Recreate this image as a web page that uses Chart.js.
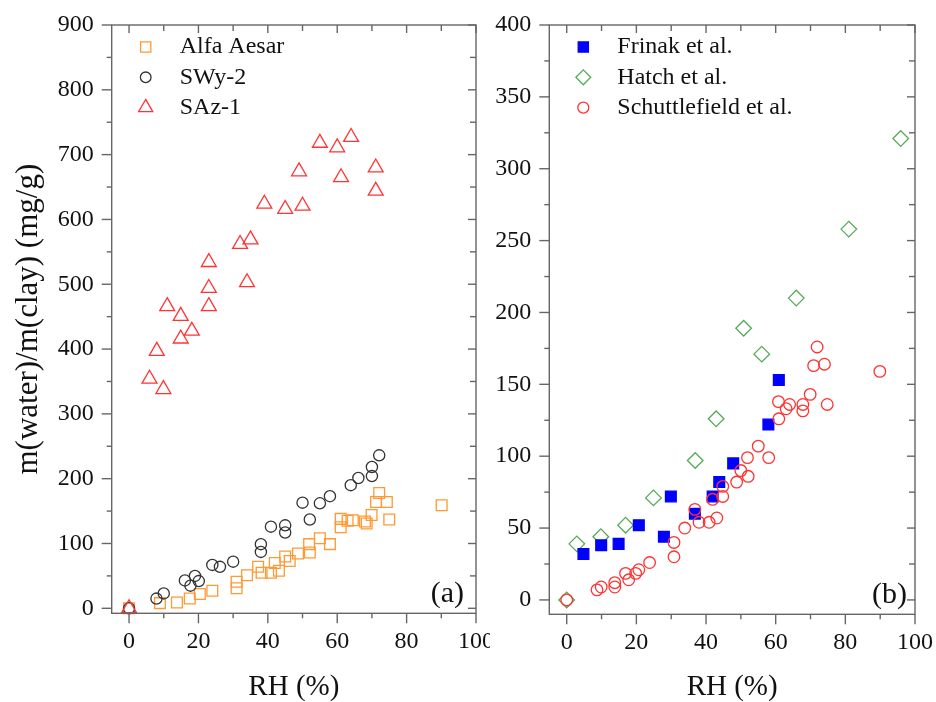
<!DOCTYPE html>
<html>
<head>
<meta charset="utf-8">
<title>Water uptake vs RH</title>
<script src="https://cdn.jsdelivr.net/npm/chart.js@4.4.1/dist/chart.umd.min.js"></script>
<style>
  html, body { margin: 0; padding: 0; background: #fff; }
  #wrap { position: relative; width: 936px; height: 702px; overflow: hidden; }
  .panel { position: absolute; top: 0; height: 702px; }
</style>
</head>
<body>
<div id="wrap">
  <div class="panel" style="left:0;width:490px"><canvas id="chartA"></canvas></div>
  <div class="panel" style="left:490px;width:446px"><canvas id="chartB"></canvas></div>
</div>
<script>
const SERIF = '"Liberation Serif", "Times New Roman", serif';

// panel (a): clay samples
const alfaRH    = [0, 8.9, 13.8, 17.5, 20.4, 24, 31, 31, 34, 37.2, 38.2, 40.9, 42, 43.2, 45, 46.3, 48.7, 51.9, 52.1, 55, 57.9, 61, 61, 63, 64.5, 68, 68.5, 69.9, 71.2, 72.1, 74.3, 75, 90.1];
const alfaWater = [0, 8, 9, 15, 22, 27, 31, 41, 51, 64, 55, 55, 70, 58, 80, 73, 84.5, 99, 86, 108, 99, 138, 125, 135, 136, 134, 131, 144, 164, 178, 164, 137, 159];

const swyRH    = [0, 7.9, 10, 16.1, 17.7, 19, 20.1, 24, 26.2, 30, 38, 38, 40.9, 45, 45, 50, 52.1, 55, 57.9, 63.9, 66.1, 70, 70, 72.1];
const swyWater = [0, 15, 23, 43, 35, 50, 42, 67, 64, 72, 99, 87, 126, 128, 117, 163, 137, 162, 173, 190, 201, 204, 218, 236];

const sazRH    = [0, 5.9, 8, 9.9, 11, 14.9, 14.9, 18.1, 23, 23, 23, 32, 34, 35, 39, 45, 49, 50, 55, 60, 61.1, 64, 71.1, 71.1];
const sazWater = [0, 354, 397, 338, 466, 451, 416, 428, 534, 494, 466, 562, 503, 569, 624, 616, 674, 621, 718, 711, 665, 727, 680, 644];

// panel (b): literature data
const frinakRH    = [4.8, 9.9, 14.9, 20.7, 27.9, 29.9, 36.8, 41.9, 43.8, 47.8, 57.9, 60.9];
const frinakWater = [32, 38, 39, 52, 44, 72, 60, 72, 82, 95, 122, 153];

const hatchRH    = [0, 2.9, 9.8, 16.9, 24.9, 36.9, 42.9, 50.8, 56, 65.9, 81, 95.9];
const hatchWater = [0, 39, 44, 52, 71, 97, 126, 189, 171, 210, 258, 321];

const schuttRH    = [0, 8.7, 9.9, 13.8, 13.8, 16.9, 17.8, 19.8, 20.7, 23.8, 30.8, 30.8, 33.9, 36.8, 38, 40.9, 43.1, 41.9, 44.8, 44.8, 48.8, 50, 52.1, 51.9, 55, 58, 60.9, 60.8, 63, 64, 67.8, 67.8, 69.9, 74.8, 70.9, 74, 71.9, 89.9];
const schuttWater = [0, 7, 9, 12, 9, 18.5, 14, 18.5, 21, 26, 40, 30, 50, 63, 54, 54, 57, 70, 72, 79, 82, 90, 86, 99, 107, 99, 126, 138, 133, 136, 131.5, 136, 143, 136, 163, 164, 176, 159];

// axis ticks
const xMajor = [0, 20, 40, 60, 80, 100];
const xMinor = [10, 30, 50, 70, 90];
const yMajorA = [0, 100, 200, 300, 400, 500, 600, 700, 800, 900];
const yMinorA = [50, 150, 250, 350, 450, 550, 650, 750, 850];
const yMajorB = [0, 50, 100, 150, 200, 250, 300, 350, 400];
const yMinorB = [25, 75, 125, 175, 225, 275, 325, 375];

const zip = (xs, ys) => xs.map((x, i) => ({ x: x, y: ys[i] }));

function series(label, xs, ys, color, style, radius, filled, order) {
  return {
    label: label,
    data: zip(xs, ys),
    pointStyle: style,
    pointRadius: radius,
    pointHoverRadius: radius,
    borderColor: color,
    backgroundColor: filled ? color : 'rgba(0,0,0,0)',
    borderWidth: 1.3,
    order: order,
    clip: false
  };
}

// box around the plot with Origin-like ticks (outer on left/bottom, inner on top/right)
const originFrame = {
  id: 'originFrame',
  afterDraw(chart, args, opts) {
    const { ctx, chartArea: a } = chart;
    const x = chart.scales.x, y = chart.scales.y;
    const line = (x1, y1, x2, y2) => { ctx.beginPath(); ctx.moveTo(x1, y1); ctx.lineTo(x2, y2); ctx.stroke(); };
    ctx.save();
    ctx.strokeStyle = '#666';
    ctx.lineWidth = 1.4;
    ctx.strokeRect(a.left, a.top, a.right - a.left, a.bottom - a.top);
    opts.xMajor.forEach(v => { const p = x.getPixelForValue(v); line(p, a.bottom, p, a.bottom + 10); line(p, a.top, p, a.top + 8); });
    opts.xMinor.forEach(v => { const p = x.getPixelForValue(v); line(p, a.bottom, p, a.bottom + 5); line(p, a.top, p, a.top + 6); });
    opts.yMajor.forEach(v => { const p = y.getPixelForValue(v); line(a.left - 10, p, a.left, p); line(a.right - 8, p, a.right, p); });
    opts.yMinor.forEach(v => { const p = y.getPixelForValue(v); line(a.left - 5, p, a.left, p); line(a.right - 6, p, a.right, p); });
    // panel tag
    ctx.fillStyle = '#111';
    ctx.font = '30px ' + SERIF;
    ctx.textAlign = 'right';
    ctx.textBaseline = 'middle';
    ctx.fillText(opts.tag, a.right - opts.tagInset, a.bottom - 19);
    ctx.restore();
  }
};

// legend in the top-left corner of the plot
const insetLegend = {
  id: 'insetLegend',
  afterDatasetsDraw(chart) {
    const { ctx, chartArea: a } = chart;
    ctx.save();
    ctx.font = '24px ' + SERIF;
    ctx.textBaseline = 'middle';
    ctx.textAlign = 'left';
    chart.data.datasets.forEach((ds, i) => {
      const cy = a.top + 22 + i * 30.3;
      ctx.strokeStyle = ds.borderColor;
      ctx.fillStyle = ds.backgroundColor;
      ctx.lineWidth = ds.borderWidth;
      Chart.helpers.drawPoint(ctx, { pointStyle: ds.pointStyle, radius: ds.pointRadius * 0.95, rotation: 0, borderWidth: ds.borderWidth }, a.left + 34, cy);
      ctx.fillStyle = '#111';
      ctx.fillText(ds.label, a.left + 68, cy);
    });
    ctx.restore();
  }
};

function makeScales(yMin, yMax, yMajor, yWidth, xHeight, yTitle) {
  return {
    x: {
      type: 'linear',
      min: -5,
      max: 100,
      afterBuildTicks: s => { s.ticks = xMajor.map(v => ({ value: v })); },
      afterFit: s => { s.height = xHeight; s.paddingLeft = 0; s.paddingRight = 0; },
      grid: { display: false, drawTicks: false },
      border: { display: false },
      ticks: { padding: 14, color: '#111', autoSkip: false, maxRotation: 0, font: { family: SERIF, size: 24 } },
      title: { display: true, text: 'RH (%)', color: '#111', padding: 0, font: { family: SERIF, size: 29, lineHeight: 1 } }
    },
    y: {
      type: 'linear',
      min: yMin,
      max: yMax,
      afterBuildTicks: s => { s.ticks = yMajor.map(v => ({ value: v })); },
      afterFit: s => { s.width = yWidth; s.paddingTop = 0; s.paddingBottom = 0; },
      grid: { display: false, drawTicks: false },
      border: { display: false },
      ticks: { padding: 18, color: '#111', autoSkip: false, font: { family: SERIF, size: 24 } },
      title: { display: !!yTitle, text: yTitle || '', color: '#111', padding: { top: 13 }, font: { family: SERIF, size: 31, lineHeight: 1 } }
    }
  };
}

function baseOptions(scales, padding, frame) {
  return {
    responsive: true,
    maintainAspectRatio: false,
    animation: false,
    events: [],
    layout: { padding: padding },
    scales: scales,
    plugins: {
      legend: { display: false },
      tooltip: { enabled: false },
      originFrame: frame
    }
  };
}

new Chart(document.getElementById('chartA'), {
  type: 'scatter',
  data: {
    datasets: [
      series('Alfa Aesar', alfaRH, alfaWater, '#FF9933', 'rect', 7.6, false, 2),
      series('SWy-2', swyRH, swyWater, '#333333', 'circle', 5.6, false, 1),
      series('SAz-1', sazRH, sazWater, '#FF3333', 'triangle', 8.6, false, 0)
    ]
  },
  options: baseOptions(
    makeScales(-7.7, 900, yMajorA, 111.7, 88.7, 'm(water)/m(clay) (mg/g)'),
    { top: 25, right: 14, left: 0, bottom: 0 },
    { xMajor: xMajor, xMinor: xMinor, yMajor: yMajorA, yMinor: yMinorA, tag: '(a)', tagInset: 12 }
  ),
  plugins: [originFrame, insetLegend]
});

new Chart(document.getElementById('chartB'), {
  type: 'scatter',
  data: {
    datasets: [
      series('Frinak et al.', frinakRH, frinakWater, '#0000FF', 'rect', 7.6, true, 1),
      series('Hatch et al.', hatchRH, hatchWater, '#55AA55', 'rectRot', 7.8, false, 2),
      series('Schuttlefield et al.', schuttRH, schuttWater, '#FF3333', 'circle', 5.8, false, 0)
    ]
  },
  options: baseOptions(
    makeScales(-10, 400, yMajorB, 59.3, 87.7, null),
    { top: 25, right: 21, left: 0, bottom: 0 },
    { xMajor: xMajor, xMinor: xMinor, yMajor: yMajorB, yMinor: yMinorB, tag: '(b)', tagInset: 8 }
  ),
  plugins: [originFrame, insetLegend]
});
</script>
</body>
</html>
